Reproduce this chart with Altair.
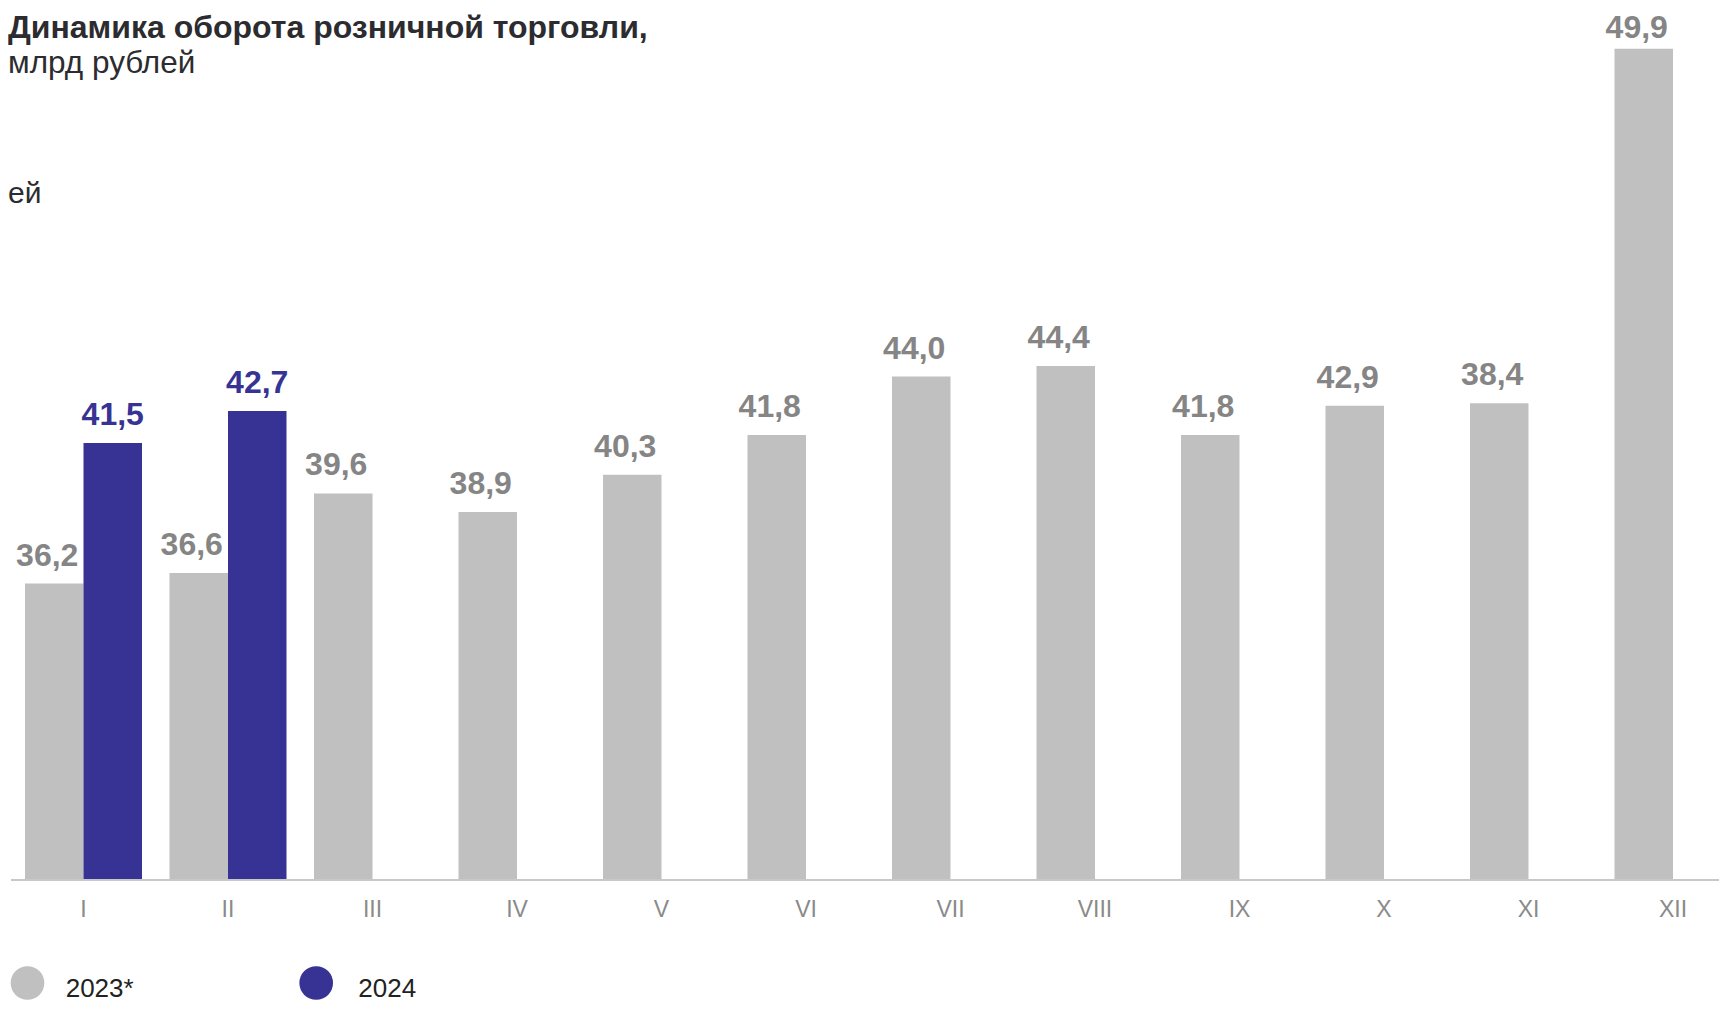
import altair as alt
import pandas as pd

# ---- data ----
months = ["I", "II", "III", "IV", "V", "VI", "VII", "VIII", "IX", "X", "XI", "XII"]
series = ["2023*", "2024"]
# bar heights as drawn (on the chart's hidden value scale)
bars_2023 = [36.2, 36.6, 39.6, 38.9, 40.3, 41.8, 44.0, 44.4, 41.8, 42.9, 43.0, 56.35]
labels_2023 = ["36,2", "36,6", "39,6", "38,9", "40,3", "41,8", "44,0", "44,4", "41,8", "42,9", "38,4", "49,9"]
bars_2024 = [41.5, 42.7]
labels_2024 = ["41,5", "42,7"]
title_line1 = "Динамика оборота розничной торговли,"
title_line2 = "млрд рублей"
stray_text = "ей"

FONT = "Liberation Sans"
GRAY = "#c0c0c0"
BLUE = "#373394"
GRAY_TXT = "#858585"
AXIS_TXT = "#8a8a8a"
DARK = "#2c2c30"

BASE, TOP = 25.07, 57.89
LABEL_CAP = 56.1

rows = []
for m, v, l in zip(months, bars_2023, labels_2023):
    rows.append({"month": m, "series": "2023*", "value": v, "label": l, "base": BASE})
for m, v, l in zip(months, bars_2024, labels_2024):
    rows.append({"month": m, "series": "2024", "value": v, "label": l, "base": BASE})
df = pd.DataFrame(rows)

W, H = 1734.5, 871
VISIBLE_W = 1708
BAR_W = 58.5
HALF = BAR_W / 2

y_scale = alt.Scale(domain=[BASE, TOP], zero=False, nice=False)
x_enc = alt.X(
    "month:N",
    scale=alt.Scale(domain=months, paddingInner=0.1903, paddingOuter=0.0969),
    axis=alt.Axis(title=None, domain=False, ticks=False, grid=False,
                  labelFont=FONT, labelFontSize=23, labelColor=AXIS_TXT,
                  labelPadding=19, labelAngle=0),
)
y_enc = alt.Y("value:Q", scale=y_scale, axis=None)
y2_enc = alt.Y2("base:Q")
ylab_enc = alt.Y("label_y:Q", scale=y_scale, axis=None)
color_enc = alt.Color("series:N", scale=alt.Scale(domain=series, range=[GRAY, BLUE]), legend=None)

base = alt.Chart(df)
d23 = base.transform_filter(alt.datum.series == "2023*")
d24 = base.transform_filter(alt.datum.series == "2024")

bars23 = d23.mark_bar(width=BAR_W, xOffset=-HALF).encode(
    x=x_enc, y=y_enc, y2=y2_enc, color=color_enc)
bars24 = d24.mark_bar(width=BAR_W, xOffset=HALF).encode(
    x=x_enc, y=y_enc, y2=y2_enc, color=color_enc)

lab23 = d23.transform_calculate(label_y=f"min(datum.value, {LABEL_CAP})").mark_text(
    font=FONT, fontSize=32, fontWeight="bold", color=GRAY_TXT,
    baseline="alphabetic", align="center", dy=-18, xOffset=-HALF - 7,
).encode(x=x_enc, y=ylab_enc, text="label:N")

lab24 = d24.transform_calculate(label_y=f"min(datum.value, {LABEL_CAP})").mark_text(
    font=FONT, fontSize=32, fontWeight="bold", color=BLUE,
    baseline="alphabetic", align="center", dy=-18, xOffset=HALF,
).encode(x=x_enc, y=ylab_enc, text="label:N")

one_row = base.transform_filter(alt.datum.month == months[0])

baseline_rule = one_row.transform_filter(alt.datum.series == series[0]).mark_rule(
    color="#c8c8c8", strokeWidth=2, yOffset=1).encode(
    y=alt.Y("base:Q", scale=y_scale, axis=None), x=alt.value(0), x2=alt.value(VISIBLE_W))

# legend drawn as marks
leg_c1 = one_row.transform_filter(alt.datum.series == series[0]).mark_circle(
    size=1134, opacity=1).encode(x=alt.value(16.5), y=alt.value(975), color=color_enc)
leg_c2 = one_row.transform_filter(alt.datum.series == series[1]).mark_circle(
    size=1134, opacity=1).encode(x=alt.value(305.2), y=alt.value(975), color=color_enc)
leg_t1 = one_row.transform_filter(alt.datum.series == series[0]).mark_text(
    font=FONT, fontSize=26, color="#222222", align="left", baseline="alphabetic").encode(
    x=alt.value(54.7), y=alt.value(989), text="series:N")
leg_t2 = one_row.transform_filter(alt.datum.series == series[1]).mark_text(
    font=FONT, fontSize=26, color="#222222", align="left", baseline="alphabetic").encode(
    x=alt.value(347.3), y=alt.value(989), text="series:N")

title_src = one_row.transform_filter(alt.datum.series == series[0])
t1 = title_src.mark_text(
    font=FONT, fontSize=32, fontWeight="bold", align="left", baseline="alphabetic"
).encode(text=alt.value(title_line1), x=alt.value(-3), y=alt.value(29.5), color=alt.value(DARK))
t2 = title_src.mark_text(
    font=FONT, fontSize=31.5, align="left", baseline="alphabetic"
).encode(text=alt.value(title_line2), x=alt.value(-3), y=alt.value(65), color=alt.value(DARK))
t3 = title_src.mark_text(
    font=FONT, fontSize=30, align="left", baseline="alphabetic"
).encode(text=alt.value(stray_text), x=alt.value(-3), y=alt.value(195.3), color=alt.value(DARK))

chart = alt.layer(
    bars23, bars24, baseline_rule, lab23, lab24,
    leg_c1, leg_c2, leg_t1, leg_t2, t1, t2, t3,
).properties(
    width=W,
    height=H,
    autosize=alt.AutoSizeParams(type="none"),
    padding={"left": 3, "top": 0, "right": VISIBLE_W - W, "bottom": 124},
).configure_view(stroke=None)

chart.save("out.html", embed_options={"renderer": "svg", "actions": False})
